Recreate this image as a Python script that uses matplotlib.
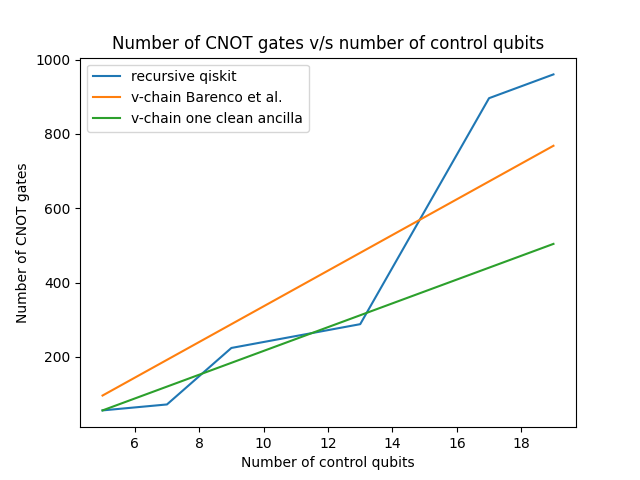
import matplotlib
matplotlib.use("Agg")
import matplotlib.pyplot as plt

controls = [5, 7, 9, 11, 13, 15, 17, 19]
recursive_x = [5, 7, 9, 13, 17, 19]
recursive_qiskit = [56, 72, 224, 288, 896, 960]
vchain_barenco = [96, 192, 288, 384, 480, 576, 672, 768]
vchain_clean = [56, 120, 184, 248, 312, 376, 440, 504]

fig = plt.figure(figsize=(6.4, 4.8), dpi=100)
plt.plot(recursive_x, recursive_qiskit, label="recursive qiskit")
plt.plot(controls, vchain_barenco, label="v-chain Barenco et al.")
plt.plot(controls, vchain_clean, label="v-chain one clean ancilla")
plt.title("Number of CNOT gates v/s number of control qubits")
plt.xlabel("Number of control qubits")
plt.ylabel("Number of CNOT gates")
plt.legend()
plt.savefig("out.png")
